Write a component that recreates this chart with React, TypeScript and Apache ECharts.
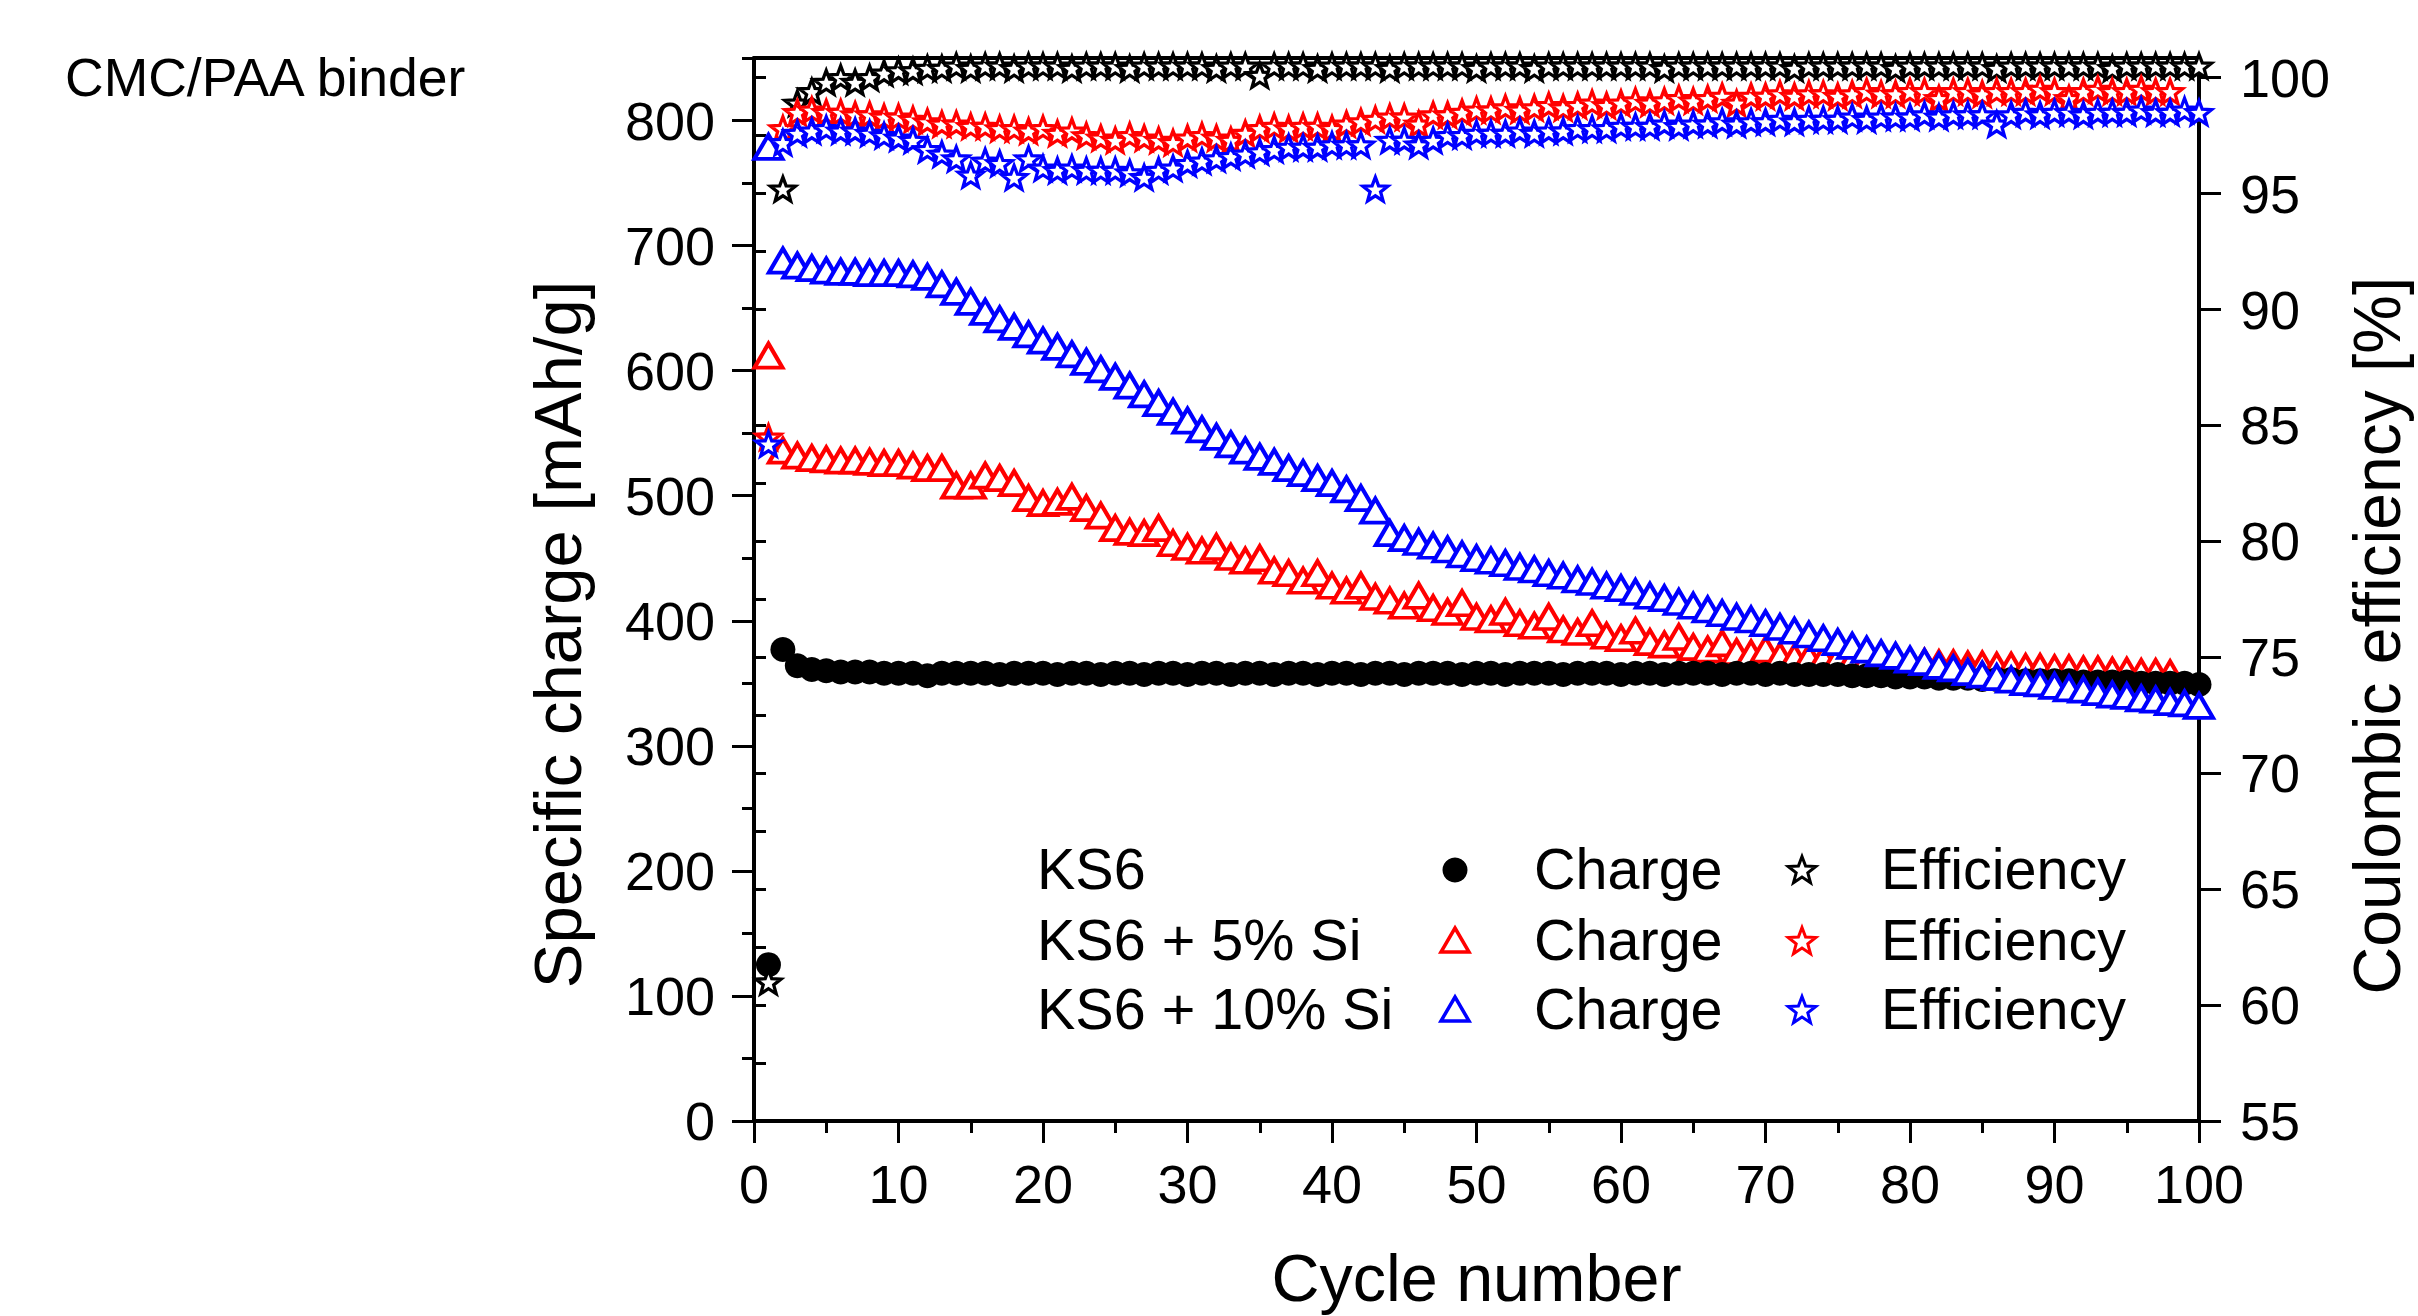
import React, { useEffect, useRef } from 'react';
import * as echarts from 'echarts';

// ---------------- data ----------------
const cycles = [
  1, 2, 3, 4, 5, 6, 7, 8, 9, 10, 11, 12, 13, 14, 15, 16, 17, 18, 19, 20,
  21, 22, 23, 24, 25, 26, 27, 28, 29, 30, 31, 32, 33, 34, 35, 36, 37, 38, 39, 40,
  41, 42, 43, 44, 45, 46, 47, 48, 49, 50, 51, 52, 53, 54, 55, 56, 57, 58, 59, 60,
  61, 62, 63, 64, 65, 66, 67, 68, 69, 70, 71, 72, 73, 74, 75, 76, 77, 78, 79, 80,
  81, 82, 83, 84, 85, 86, 87, 88, 89, 90, 91, 92, 93, 94, 95, 96, 97, 98, 99, 100,
];

// KS6 – specific charge [mAh/g]
const ks6Charge = [
  125, 377, 364, 361, 360, 359, 359, 359, 358, 358,
  358, 356, 358, 358, 358, 358, 357, 358, 358, 358,
  357, 358, 358, 357, 358, 358, 357, 358, 358, 357,
  358, 358, 357, 358, 358, 357, 358, 358, 357, 358,
  358, 357, 358, 358, 357, 358, 358, 358, 357, 358,
  358, 357, 358, 358, 358, 357, 358, 358, 358, 357,
  358, 358, 357, 358, 358, 358, 357, 358, 358, 357,
  358, 357, 357, 357, 357, 356, 356, 356, 355, 355,
  355, 354, 354, 354, 353, 353, 353, 352, 352, 352,
  352, 351, 351, 351, 351, 350, 350, 350, 350, 349,
];

// KS6 + 5% Si – specific charge [mAh/g]
const si5Charge = [
  612, 536, 532, 530, 529, 528, 528, 527, 526, 526,
  524, 522, 522, 508, 508, 516, 514, 510, 498, 494,
  495, 499, 490, 484, 474, 471, 470, 474, 462, 459,
  456, 459, 451, 448, 450, 440, 438, 432, 438, 428,
  424, 428, 419, 416, 412, 420, 410, 407, 414, 403,
  401, 407, 398, 396, 403, 393, 391, 398, 388, 386,
  392, 383, 381, 387, 379, 377, 382, 375, 374, 377,
  372, 371, 371, 370, 370, 369, 369, 368, 368, 367,
  367, 366, 366, 365, 365, 364, 364, 363, 363, 362,
  362, 361, 361, 360, 360, 359, 359, 358,
];

// KS6 + 10% Si – specific charge [mAh/g]
const si10Charge = [
  779, 688, 684, 682, 680, 679, 679, 678, 678, 678,
  677, 675, 669, 663, 655, 647, 641, 635, 629, 624,
  619, 613, 607, 601, 595, 588, 581, 574, 567, 560,
  553, 547, 541, 536, 531, 527, 522, 518, 514, 510,
  505, 498, 488, 470, 466, 463, 460, 457, 453, 450,
  448, 446, 443, 441, 438, 436, 433, 431, 428, 426,
  423, 420, 418, 415, 412, 409, 406, 403, 401, 398,
  395, 392, 389, 386, 383, 380, 377, 374, 372, 369,
  367, 364, 362, 359, 357, 355, 353, 351, 350, 348,
  346, 345, 343, 341, 340, 338, 337, 335, 334, 332,
];

// Coulombic efficiency [%]
const ks6Eff = [
  61.0, 95.2, 98.9, 99.4, 99.8, 100.0, 99.8, 100.0, 100.2, 100.3,
  100.3, 100.4, 100.4, 100.5, 100.4, 100.5, 100.5, 100.4, 100.5, 100.5,
  100.5, 100.4, 100.5, 100.5, 100.5, 100.4, 100.5, 100.5, 100.5, 100.5,
  100.5, 100.4, 100.5, 100.5, 100.1, 100.5, 100.5, 100.5, 100.4, 100.5,
  100.5, 100.5, 100.5, 100.4, 100.5, 100.5, 100.5, 100.5, 100.5, 100.4,
  100.5, 100.5, 100.5, 100.4, 100.5, 100.5, 100.5, 100.5, 100.5, 100.5,
  100.5, 100.5, 100.4, 100.5, 100.5, 100.5, 100.5, 100.5, 100.5, 100.5,
  100.5, 100.4, 100.5, 100.5, 100.5, 100.5, 100.5, 100.5, 100.4, 100.5,
  100.5, 100.5, 100.5, 100.5, 100.5, 100.4, 100.5, 100.5, 100.5, 100.5,
  100.5, 100.5, 100.5, 100.4, 100.5, 100.5, 100.5, 100.5, 100.5, 100.5,
];

const si5Eff = [
  84.5, 97.8, 98.5, 98.6, 98.5, 98.5, 98.4, 98.4, 98.3, 98.3,
  98.2, 98.1, 98.0, 98.0, 97.9, 97.9, 97.8, 97.8, 97.7, 97.8,
  97.6, 97.7, 97.5, 97.4, 97.3, 97.5, 97.4, 97.3, 97.2, 97.4,
  97.5, 97.4, 97.3, 97.6, 97.8, 97.9, 97.8, 97.9, 97.9, 97.8,
  98.0, 98.1, 98.2, 98.3, 98.3, 98.0, 98.4, 98.4, 98.5, 98.6,
  98.6, 98.7, 98.6, 98.7, 98.8, 98.7, 98.8, 98.9, 98.8, 98.9,
  99.0, 98.9, 99.0, 99.1, 99.0, 99.1, 99.2, 98.9, 99.2, 99.2,
  99.3, 99.2, 99.3, 99.3, 99.2, 99.3, 99.4, 99.3, 99.3, 99.4,
  99.4, 99.1, 99.4, 99.4, 99.3, 99.4, 99.4, 99.4, 99.5, 99.4,
  99.1, 99.4, 99.5, 99.4, 99.4, 99.5, 99.4, 99.4,
];

const si10Eff = [
  84.2, 97.2, 97.6, 97.7, 97.8, 97.7, 97.7, 97.6, 97.5, 97.4,
  97.3, 96.9, 96.7, 96.5, 95.8, 96.4, 96.3, 95.7, 96.5, 96.1,
  96.0, 96.1, 96.0, 96.0, 96.0, 95.9, 95.7, 96.0, 96.1, 96.3,
  96.4, 96.5, 96.6, 96.7, 96.8, 96.9, 97.0, 97.0, 97.0, 97.1,
  97.1, 97.1, 95.2, 97.3, 97.3, 97.1, 97.3, 97.5, 97.5, 97.6,
  97.6, 97.6, 97.7, 97.6, 97.7, 97.7, 97.8, 97.8, 97.8, 97.9,
  97.9, 97.9, 98.0, 97.9, 98.0, 98.0, 98.1, 98.0, 98.1, 98.1,
  98.2, 98.1, 98.2, 98.2, 98.2, 98.3, 98.2, 98.3, 98.3, 98.3,
  98.4, 98.3, 98.4, 98.4, 98.4, 98.0, 98.4, 98.5, 98.4, 98.5,
  98.5, 98.4, 98.5, 98.5, 98.5, 98.6, 98.5, 98.5, 98.6, 98.5,
];

const sampleNames = ['KS6', 'KS6 + 5% Si', 'KS6 + 10% Si'];
const chargeLabel = 'Charge';
const effLabel = 'Efficiency';

// ---------------- styling ----------------
const FONT = '"Liberation Sans", Arial, Helvetica, sans-serif';
const RED = '#ff0000';
const BLUE = '#0000ff';
const BLACK = '#000000';

function starSymbol(): string {
  const pts: string[] = [];
  for (let i = 0; i < 10; i++) {
    const r = i % 2 === 0 ? 50 : 21;
    const a = -Math.PI / 2 + (i * Math.PI) / 5;
    pts.push(`${(50 + r * Math.cos(a)).toFixed(2)} ${(50 + r * Math.sin(a)).toFixed(2)}`);
  }
  return 'path://M' + pts.join(' L') + ' Z';
}

function starPoints(cx: number, cy: number, R: number, r: number): number[][] {
  const pts: number[][] = [];
  for (let i = 0; i < 10; i++) {
    const rr = i % 2 === 0 ? R : r;
    const a = -Math.PI / 2 + (i * Math.PI) / 5;
    pts.push([cx + rr * Math.cos(a), cy + rr * Math.sin(a)]);
  }
  return pts;
}

function triPoints(cx: number, cy: number, w: number, h: number): number[][] {
  return [
    [cx, cy - h / 2],
    [cx + w / 2, cy + h / 2],
    [cx - w / 2, cy + h / 2],
  ];
}

export default function App() {
  const ref = useRef<HTMLDivElement>(null);

  useEffect(() => {
    if (!ref.current) return;
    const chart = echarts.init(ref.current, null, { renderer: 'svg' });
    const pairs = (vals: number[]) => vals.map((v, i) => [cycles[i], v]);
    const STAR = starSymbol();

    const axisLine = { show: true, onZero: false, lineStyle: { color: BLACK, width: 4 } };
    const labelStyle = { fontSize: 54, color: BLACK, fontFamily: FONT };
    const nameStyle = { fontSize: 66, color: BLACK, fontFamily: FONT };

    const triStyle = (c: string) => ({ color: '#ffffff', borderColor: c, borderWidth: 4, opacity: 1 });
    const starStyle = (c: string) => ({ color: '#ffffff', borderColor: c, borderWidth: 3.3, opacity: 1 });

    const legendRows = [869, 940, 1009];
    const LFS = 57.5;
    const graphicEls: any[] = [];
    sampleNames.forEach((n, i) => {
      const y = legendRows[i];
      graphicEls.push({
        type: 'text', x: 1037, y,
        style: { text: n, fontSize: LFS, fontFamily: FONT, fill: BLACK, align: 'left', verticalAlign: 'middle', textVerticalAlign: 'middle' },
      });
      graphicEls.push({
        type: 'text', x: 1534, y,
        style: { text: chargeLabel, fontSize: LFS, fontFamily: FONT, fill: BLACK, align: 'left', verticalAlign: 'middle', textVerticalAlign: 'middle' },
      });
      graphicEls.push({
        type: 'text', x: 1881, y,
        style: { text: effLabel, fontSize: LFS, fontFamily: FONT, fill: BLACK, align: 'left', verticalAlign: 'middle', textVerticalAlign: 'middle' },
      });
    });
    graphicEls.push({ type: 'circle', shape: { cx: 1455, cy: legendRows[0] + 1, r: 12.5 }, style: { fill: BLACK } });
    graphicEls.push({ type: 'polygon', shape: { points: triPoints(1455, legendRows[1], 28, 24) }, style: { fill: '#fff', stroke: RED, lineWidth: 3.5 } });
    graphicEls.push({ type: 'polygon', shape: { points: triPoints(1455, legendRows[2], 28, 24) }, style: { fill: '#fff', stroke: BLUE, lineWidth: 3.5 } });
    [BLACK, RED, BLUE].forEach((c, i) => {
      graphicEls.push({ type: 'polygon', shape: { points: starPoints(1802, legendRows[i] + 2, 14.5, 6.1) }, style: { fill: '#fff', stroke: c, lineWidth: 3 } });
    });

    const option: any = {
      animation: false,
      backgroundColor: '#ffffff',
      title: {
        text: 'CMC/PAA binder', left: 65, top: 50, padding: 0,
        textStyle: { fontSize: 53.5, fontWeight: 'normal', color: BLACK, fontFamily: FONT },
      },
      grid: { left: 754, right: 219, top: 58, bottom: 195, containLabel: false, outerBoundsMode: 'none' },
      xAxis: [
        {
          type: 'value', min: 0, max: 100, interval: 10, position: 'bottom',
          axisLine,
          axisTick: { show: true, length: 22, lineStyle: { color: BLACK, width: 3 } },
          minorTick: { show: true, splitNumber: 2, length: 12, lineStyle: { color: BLACK, width: 3 } },
          axisLabel: { ...labelStyle, margin: 36 },
          splitLine: { show: false },
          name: 'Cycle number', nameLocation: 'middle', nameGap: 123,
          nameTextStyle: { ...nameStyle, fontSize: 66.5 },
        },
        {
          type: 'value', min: 0, max: 100, interval: 10, position: 'top',
          axisLine,
          axisTick: { show: true, inside: true, length: 8, lineStyle: { color: BLACK, width: 2.5 } },
          axisLabel: { show: false },
          splitLine: { show: false },
        },
      ],
      yAxis: [
        {
          type: 'value', min: 0, max: 850, interval: 100, position: 'left',
          axisLine,
          axisTick: { show: true, length: 22, lineStyle: { color: BLACK, width: 3 } },
          axisLabel: { ...labelStyle, margin: 39, showMaxLabel: false },
          splitLine: { show: false },
          name: 'Specific charge [mAh/g]', nameLocation: 'middle', nameGap: 163, nameRotate: 90,
          nameTextStyle: { ...nameStyle, fontSize: 67, padding: [0, 90, 0, 0] },
        },
        {
          type: 'value', min: 55, max: 100.85, interval: 5, position: 'right',
          axisLine,
          axisTick: { show: true, length: 22, lineStyle: { color: BLACK, width: 3 } },
          axisLabel: { ...labelStyle, margin: 41, showMaxLabel: false },
          splitLine: { show: false },
          name: 'Coulombic efficiency [%]', nameLocation: 'middle', nameGap: 145, nameRotate: 90,
          nameTextStyle: { ...nameStyle, padding: [0, 92, 0, 0] },
        },
        {
          type: 'value', min: 0, max: 850, interval: 50, position: 'left',
          axisLine: { show: false },
          axisTick: { show: true, length: 12, lineStyle: { color: BLACK, width: 3 } },
          axisLabel: { show: false },
          splitLine: { show: false },
        },
        {
          type: 'value', min: 55, max: 100.85, interval: 2.5, position: 'right',
          axisLine: { show: false },
          axisTick: { show: true, length: 12, lineStyle: { color: BLACK, width: 3 } },
          axisLabel: { show: false },
          splitLine: { show: false },
        },
      ],
      graphic: { elements: graphicEls },
      series: [
        {
          type: 'scatter', name: 'KS6 + 5% Si – Charge', xAxisIndex: 0, yAxisIndex: 0, z: 2,
          data: pairs(si5Charge), symbol: 'triangle', symbolSize: [28, 24],
          itemStyle: triStyle(RED), emphasis: { disabled: true },
        },
        {
          type: 'scatter', name: 'KS6 – Charge', xAxisIndex: 0, yAxisIndex: 0, z: 3,
          data: pairs(ks6Charge), symbol: 'circle', symbolSize: 25,
          itemStyle: { color: BLACK, opacity: 1 }, emphasis: { disabled: true },
        },
        {
          type: 'scatter', name: 'KS6 + 10% Si – Charge', xAxisIndex: 0, yAxisIndex: 0, z: 4,
          data: pairs(si10Charge), symbol: 'triangle', symbolSize: [28, 24],
          itemStyle: triStyle(BLUE), emphasis: { disabled: true },
        },
        {
          type: 'scatter', name: 'KS6 – Efficiency', xAxisIndex: 0, yAxisIndex: 1, z: 5,
          data: pairs(ks6Eff), symbol: STAR, symbolKeepAspect: true, symbolSize: 25,
          itemStyle: starStyle(BLACK), emphasis: { disabled: true },
        },
        {
          type: 'scatter', name: 'KS6 + 5% Si – Efficiency', xAxisIndex: 0, yAxisIndex: 1, z: 6,
          data: pairs(si5Eff), symbol: STAR, symbolKeepAspect: true, symbolSize: 25,
          itemStyle: starStyle(RED), emphasis: { disabled: true },
        },
        {
          type: 'scatter', name: 'KS6 + 10% Si – Efficiency', xAxisIndex: 0, yAxisIndex: 1, z: 7,
          data: pairs(si10Eff), symbol: STAR, symbolKeepAspect: true, symbolSize: 25,
          itemStyle: starStyle(BLUE), emphasis: { disabled: true },
        },
      ],
    };

    chart.setOption(option);
    return () => chart.dispose();
  }, []);

  return (
    <div
      ref={ref}
      style={{ position: 'absolute', left: 0, top: 0, width: 2418, height: 1316, background: '#ffffff', overflow: 'hidden' }}
    />
  );
}
